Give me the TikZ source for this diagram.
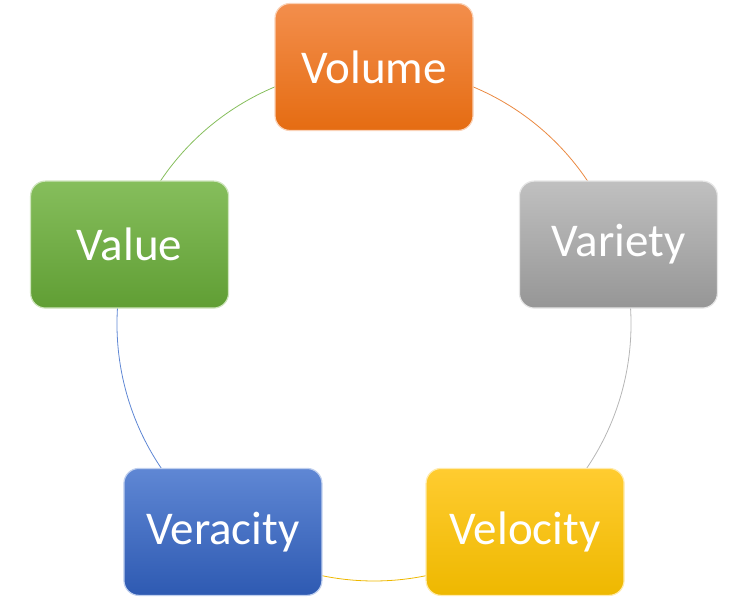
\documentclass[tikz,border=0pt]{standalone}
\usepackage{fontspec}
\setmainfont{Carlito}
\usetikzlibrary{backgrounds}

\definecolor{volTop}{RGB}{243,142,76}
\definecolor{volBot}{RGB}{229,108,18}
\definecolor{varTop}{RGB}{192,192,192}
\definecolor{varBot}{RGB}{150,150,150}
\definecolor{velTop}{RGB}{255,204,48}
\definecolor{velBot}{RGB}{238,184,0}
\definecolor{verTop}{RGB}{95,135,212}
\definecolor{verBot}{RGB}{46,90,178}
\definecolor{valTop}{RGB}{134,190,92}
\definecolor{valBot}{RGB}{96,158,52}

\begin{document}
\begin{tikzpicture}[x=1pt,y=1pt,
	vbox/.style={rectangle, rounded corners=15pt, minimum width=198pt, minimum height=127pt,
		text=white, font=\fontsize{47}{56}\selectfont, line width=1.2pt},
	ring/.style={line width=0.8pt}]
	\useasboundingbox (0,0) rectangle (751,604);
	\coordinate (c) at (374,280);
	\node[vbox, top color=volTop, bottom color=volBot, draw=volTop!40!white] (volume) at ([shift={(90:257)}]c) {Volume};
	\node[vbox, top color=varTop, bottom color=varBot, draw=varTop!40!white] (variety) at ([shift={(18:257)}]c) {Variety};
	\node[vbox, top color=velTop, bottom color=velBot, draw=velTop!40!white] (velocity) at ([shift={(-54:257)}]c) {Velocity};
	\node[vbox, top color=verTop, bottom color=verBot, draw=verTop!40!white] (veracity) at ([shift={(-126:257)}]c) {Veracity};
	\node[vbox, top color=valTop, bottom color=valBot, draw=valTop!40!white] (value) at ([shift={(162:257)}]c) {Value};
	\begin{pgfonlayer}{background}
		\draw[ring, volBot!80!white] (volume.center) arc[start angle=90, end angle=18, radius=257];
		\draw[ring, varBot!70!white] (variety.center) arc[start angle=18, end angle=-54, radius=257];
		\draw[ring, velBot] (velocity.center) arc[start angle=-54, end angle=-126, radius=257];
		\draw[ring, verTop] (veracity.center) arc[start angle=-126, end angle=-198, radius=257];
		\draw[ring, valTop] (value.center) arc[start angle=162, end angle=90, radius=257];
	\end{pgfonlayer}
\end{tikzpicture}
\end{document}
